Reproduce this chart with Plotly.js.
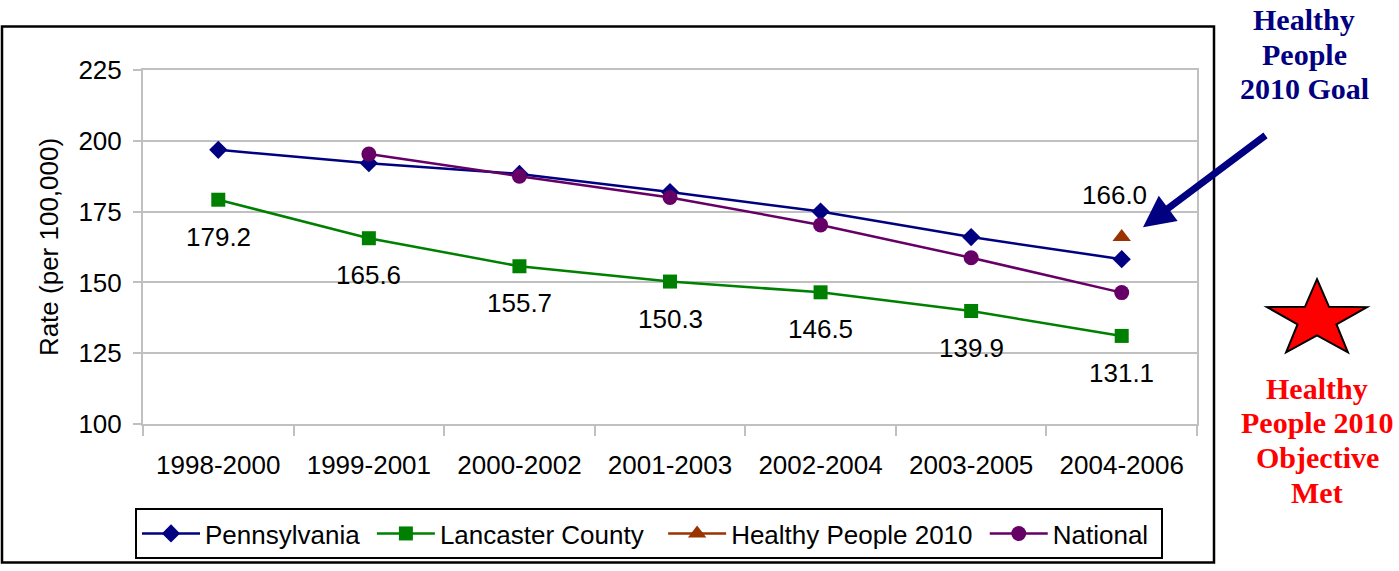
<!DOCTYPE html>
<html>
<head>
<meta charset="utf-8">
<script src="https://cdn.plot.ly/plotly-3.0.1.min.js"></script>
<style>html,body{margin:0;padding:0;background:#fff;}#chart{width:1399px;height:571px;}</style>
</head>
<body>
<div id="chart"></div>
<script>
var periods = ['1998-2000','1999-2001','2000-2002','2001-2003','2002-2004','2003-2005','2004-2006'];
var pennsylvania = [196.8, 192.1, 188.3, 181.9, 175.0, 166.0, 158.2];
var lancaster = [179.2, 165.6, 155.7, 150.3, 146.5, 139.9, 131.1];
var healthyPeople = [null, null, null, null, null, null, 166.0];
var national = [null, 195.3, 187.5, 180.0, 170.3, 158.7, 146.4];
var yTicks = [100, 125, 150, 175, 200, 225];
var seriesNames = ['Pennsylvania', 'Lancaster County', 'Healthy People 2010', 'National'];
var legendPad = [1, 2, 1, 1];

var FONT = 'Liberation Sans, Arial, sans-serif';
var SERIF = 'Liberation Serif, Times New Roman, serif';

// plot area pixel geometry helpers (for decorations only)
var L = 143, R = 1197, T = 70, B = 428;
function px(x){ return (x - L) / (R - L); }
function py(y){ return (B - y) / (B - T); }
function pad(name, n){ return name + new Array(n + 1).join('\u00a0'); }

var traces = [
  {x: periods, y: pennsylvania, name: pad(seriesNames[0], legendPad[0]), type: 'scatter', mode: 'lines+markers',
   line: {color: '#000080', width: 2.5}, marker: {symbol: 'diamond', size: 14, color: '#000080'}},
  {x: periods, y: lancaster, name: pad(seriesNames[1], legendPad[1]), type: 'scatter', mode: 'lines+markers',
   line: {color: '#008000', width: 2.5}, marker: {symbol: 'square', size: 14, color: '#008000'}},
  {x: periods, y: healthyPeople, name: pad(seriesNames[2], legendPad[2]), type: 'scatter', mode: 'lines+markers',
   line: {color: '#993300', width: 2.5}, marker: {symbol: 'triangle-up', size: 16, color: '#993300'}},
  {x: periods, y: national, name: pad(seriesNames[3], legendPad[3]), type: 'scatter', mode: 'lines+markers',
   line: {color: '#660066', width: 2.5}, marker: {symbol: 'circle', size: 15, color: '#660066'}}
];

var annotations = [];
lancaster.forEach(function(v, i){
  annotations.push({x: periods[i], y: v, xref: 'x', yref: 'y', text: v.toFixed(1), showarrow: false,
    yshift: -37, font: {family: FONT, size: 26, color: '#000'}});
});
healthyPeople.forEach(function(v, i){
  if (v !== null) annotations.push({x: periods[i], y: v, xref: 'x', yref: 'y', text: v.toFixed(1), showarrow: false,
    yshift: 42, xshift: -7, font: {family: FONT, size: 26, color: '#000'}});
});

var goalLines = ['Healthy', 'People', '2010 Goal'];
var goalY = [19, 54.5, 88.5];
goalLines.forEach(function(t, i){
  annotations.push({xref: 'paper', yref: 'paper', x: px(1304), y: py(goalY[i]), text: '<b>' + t + '</b>',
    showarrow: false, xanchor: 'center', yanchor: 'middle', font: {family: SERIF, size: 30, color: '#000080'}});
});
var metLines = ['Healthy', 'People 2010', 'Objective', 'Met'];
var metY = [392, 426.5, 462, 497];
metLines.forEach(function(t, i){
  annotations.push({xref: 'paper', yref: 'paper', x: px(1317), y: py(metY[i]), text: '<b>' + t + '</b>',
    showarrow: false, xanchor: 'center', yanchor: 'middle', font: {family: SERIF, size: 30, color: '#ff0000'}});
});
// arrow
annotations.push({xref: 'paper', yref: 'paper', x: px(1143), y: py(229), ax: 124, ay: -93, text: '',
  showarrow: true, arrowhead: 2, arrowsize: 0.9, arrowwidth: 7, arrowcolor: '#000080'});

// star path (pixel-sized decoration)
var Rx = 52.5, Ry = 40.4, rin = 0.39;
var pts = [];
for (var k = 0; k < 10; k++) {
  var ang = Math.PI / 2 - k * Math.PI / 5;
  var r = (k % 2 === 0) ? 1 : rin;
  pts.push((r * Rx * Math.cos(ang)).toFixed(2) + ',' + (r * Ry * Math.sin(ang)).toFixed(2));
}
var starPath = 'M' + pts.join('L') + 'Z';

var shapes = [
  {type: 'rect', xref: 'paper', yref: 'paper', x0: px(2), x1: px(1214), y0: py(568), y1: py(26),
   line: {color: '#000', width: 2.5}, fillcolor: 'rgba(0,0,0,0)'},
  {type: 'path', xref: 'paper', yref: 'paper', xsizemode: 'pixel', ysizemode: 'pixel',
   xanchor: px(1317), yanchor: py(322.4), path: starPath,
   fillcolor: '#ff0000', line: {color: '#000', width: 2}}
];

var layout = {
  width: 1399, height: 571,
  margin: {l: L, r: 1399 - R, t: T, b: 571 - B},
  paper_bgcolor: '#fff', plot_bgcolor: '#fff',
  font: {family: FONT, size: 26, color: '#000'},
  showlegend: true,
  legend: {orientation: 'h', x: px(135), y: py(513), xanchor: 'left', yanchor: 'top',
    bordercolor: '#000', borderwidth: 2, font: {family: FONT, size: 26, color: '#000'},
    itemwidth: 58, traceorder: 'normal'},
  xaxis: {type: 'category', range: [-0.5, 6.5], tickson: 'boundaries', ticks: 'outside', ticklen: 10,
    tickwidth: 2, tickcolor: '#c0c0c0', showgrid: false, showline: true, linecolor: '#c0c0c0', linewidth: 2,
    mirror: true, ticklabelstandoff: 17, tickfont: {family: FONT, size: 26, color: '#000'}, fixedrange: true},
  yaxis: {range: [100, 225], tickvals: yTicks, ticks: 'outside', ticklen: 8, tickwidth: 2, tickcolor: '#c0c0c0',
    showgrid: true, gridcolor: '#c0c0c0', gridwidth: 2, showline: true, linecolor: '#c0c0c0', linewidth: 2,
    mirror: true, zeroline: false, ticklabelstandoff: 6, tickfont: {family: FONT, size: 26, color: '#000'},
    title: {text: 'Rate (per 100,000)', font: {family: FONT, size: 26, color: '#000'}, standoff: 12}},
  annotations: annotations,
  shapes: shapes
};

Plotly.newPlot('chart', traces, layout, {staticPlot: true, displayModeBar: false});
</script>
</body>
</html>
